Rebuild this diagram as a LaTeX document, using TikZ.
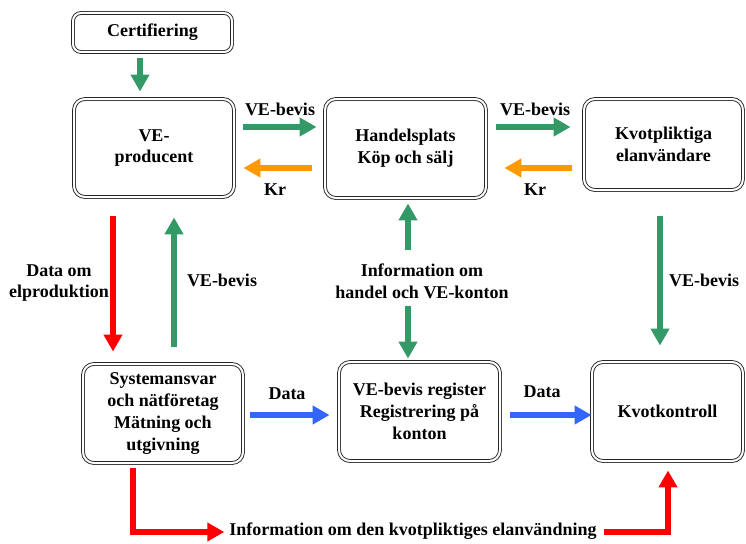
\documentclass[tikz,border=0pt]{standalone}
\usepackage{fontspec}
\setmainfont{Liberation Serif}[BoldFont={Liberation Serif Bold}]
\newfontfamily\serf{Liberation Serif}[BoldFont={Liberation Serif Bold}]
\usetikzlibrary{arrows.meta,calc}
\definecolor{vgreen}{RGB}{51,153,102}
\definecolor{vorange}{RGB}{255,153,0}
\definecolor{vred}{RGB}{255,0,0}
\definecolor{vblue}{RGB}{51,102,255}
\tikzset{
  box/.style={draw=black!85, double=white, double distance=2pt, line width=0.9pt,
    rounded corners=11pt, align=center, inner sep=0pt,
    font=\serf\fontsize{18}{21.7}\selectfont\bfseries},
  lbl/.style={align=center, inner sep=0pt, font=\serf\fontsize{18}{21.7}\selectfont\bfseries},
  arr/.style={line width=5.3pt, -{Triangle[width=18pt,length=17pt]}},
  garr/.style={arr, draw=vgreen},
  oarr/.style={arr, draw=vorange},
  rarr/.style={arr, draw=vred},
  barr/.style={arr, draw=vblue},
}
\begin{document}
\begin{tikzpicture}[x=1pt,y=-1pt]
\useasboundingbox[fill=white] (0,0) rectangle (746,543);
% boxes
\node[box, minimum width=159pt, minimum height=39pt, rounded corners=8pt] (cert) at (152.5,32.5) {Certifiering};
\node[box, minimum width=160pt, minimum height=98pt] (prod) at (154,148) {VE-\\producent};
\node[box, minimum width=161pt, minimum height=99pt] (handel) at (405.5,148.5) {Handelsplats\\Köp och sälj};
\node[box, minimum width=159pt, minimum height=91pt] (kvot) at (663.5,144.5) {Kvotpliktiga\\elanvändare};
\node[box, minimum width=160pt, minimum height=99pt] (sys) at (163,413.5) {Systemansvar\\och nätföretag\\Mätning och\\utgivning};
\node[box, minimum width=161pt, minimum height=99pt] (reg) at (419.5,411.5) {VE-bevis register\\Registrering på\\konton};
\node[box, minimum width=151pt, minimum height=99pt] (kk) at (667.5,411.5) {Kvotkontroll};
% labels
\node[lbl] (l1) at (280,109) {VE-bevis};
\node[lbl] (l2) at (275,190) {Kr};
\node[lbl] (l3) at (535,109) {VE-bevis};
\node[lbl] (l4) at (535,190) {Kr};
\node[lbl] (l5) at (59,283) {Data om\\elproduktion};
\node[lbl] (l6) at (222,280) {VE-bevis};
\node[lbl] (info) at (422,281) {Information om\\handel och VE-konton};
\node[lbl] (l7) at (704,280) {VE-bevis};
\node[lbl] (l8) at (287,394) {Data};
\node[lbl] (l9) at (542,392) {Data};
\node[lbl] (ibot) at (413,531) {Information om den kvotpliktiges elanvändning};
\coordinate (iu) at (408,250);
\coordinate (id) at (408,306);
% connectors
\draw[garr] ($(cert.south)+(-12.5,6)$) -- ($(prod.north)+(-14,-7)$);
\draw[garr] ($(prod.east)+(9,-21)$) -- ($(handel.west)+(-8,-21.5)$);
\draw[oarr] ($(handel.west)+(-13,19.5)$) -- ($(prod.east)+(9,20)$);
\draw[garr] ($(handel.east)+(10,-21.5)$) -- ($(kvot.west)+(-13,-17.5)$);
\draw[oarr] ($(kvot.west)+(-12,23.5)$) -- ($(handel.east)+(18,19.5)$);
\draw[rarr] ($(prod.south)+(-41,19)$) -- ($(sys.north)+(-50,-12)$);
\draw[garr] ($(sys.north)+(11,-17)$) -- ($(prod.south)+(20,20)$);
\draw[garr] (iu) -- ($(handel.south)+(2.5,5)$);
\draw[garr] (id) -- ($(reg.north)+(-11.5,-3)$);
\draw[garr] ($(kvot.south)+(-3.5,26)$) -- ($(kk.north)+(-7.5,-16)$);
\draw[barr] ($(sys.east)+(7,1.5)$) -- ($(reg.west)+(-9,3.5)$);
\draw[barr] ($(reg.east)+(10,3.5)$) -- ($(kk.west)+(0,3.5)$);
\draw[rarr] ($(sys.south)+(-30,5)$) |- ($(ibot.west)+(-5,1)$);
\draw[rarr] ($(ibot.east)+(7,1)$) -| ($(kk.south)+(0.5,9)$);
\end{tikzpicture}
\end{document}
